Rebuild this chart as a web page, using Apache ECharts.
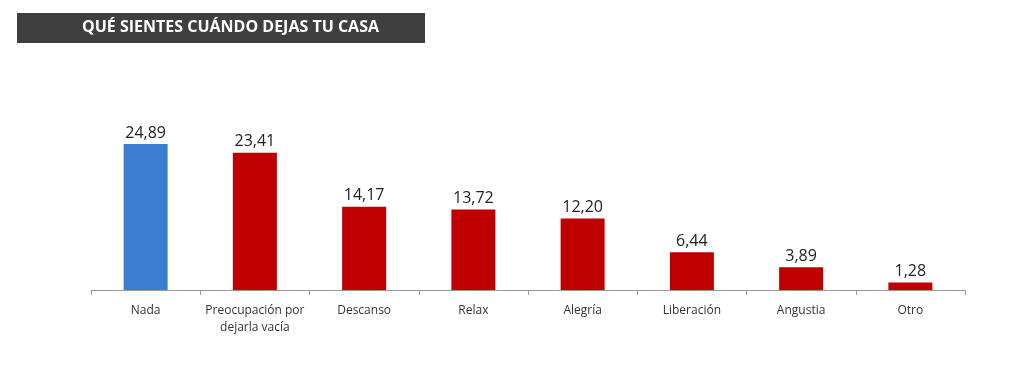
<!DOCTYPE html>
<html><head><meta charset="utf-8">
<script src="https://cdn.jsdelivr.net/npm/echarts@6/dist/echarts.min.js"></script>
<style>html,body{margin:0;padding:0;background:#fff}#c{width:1024px;height:374px}</style>
</head><body><div id="c"></div>
<script>
const titleText = 'QUÉ SIENTES CUÁNDO DEJAS TU CASA';
const categories = ['Nada', 'Preocupación por\ndejarla vacía', 'Descanso', 'Relax', 'Alegría', 'Liberación', 'Angustia', 'Otro'];
const values = [24.89, 23.41, 14.17, 13.72, 12.20, 6.44, 3.89, 1.28];
const barColors = ['#3b7dd0', '#c00000', '#c00000', '#c00000', '#c00000', '#c00000', '#c00000', '#c00000'];

const chart = echarts.init(document.getElementById('c'), null, {renderer: 'canvas'});
chart.setOption({
  animation: false,
  graphic: [
    {type: 'rect', left: 17, top: 13, shape: {width: 408, height: 30}, style: {fill: '#3f3f3f'}},
    {type: 'text', left: 82, top: 19, style: {text: titleText, fill: '#ffffff', font: 'bold 16px "Open Sans", sans-serif'}}
  ],
  grid: {left: 91, right: 59, top: 114, bottom: 84},
  xAxis: {
    type: 'category', data: categories,
    axisLine: {lineStyle: {color: '#999999'}},
    axisTick: {show: true, interval: 0, length: 5, lineStyle: {color: '#999999'}},
    axisLabel: {interval: 0, color: '#333333', fontSize: 12, fontFamily: '"Open Sans", sans-serif', margin: 12, lineHeight: 17}
  },
  yAxis: {type: 'value', min: 0, max: 30, show: false, splitLine: {show: false}},
  series: [{
    type: 'bar', barWidth: 44,
    data: values.map((v, i) => ({value: v, itemStyle: {color: barColors[i]}})),
    label: {show: true, position: 'top', distance: 3, color: '#222222', fontSize: 16, fontFamily: '"Open Sans", sans-serif',
      formatter: p => p.value.toFixed(2).replace('.', ',')}
  }]
});
</script></body></html>
